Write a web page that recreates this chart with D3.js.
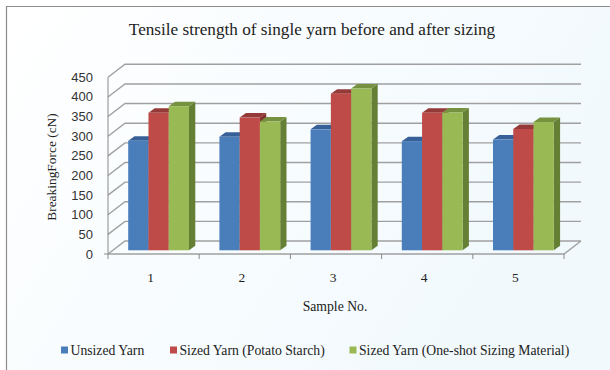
<!DOCTYPE html>
<html>
<head>
<meta charset="utf-8">
<title>Tensile strength of single yarn</title>
<script src="https://cdnjs.cloudflare.com/ajax/libs/d3/7.8.5/d3.min.js"></script>
<style>
  html, body { margin: 0; padding: 0; background: #fff; }
  svg { display: block; }
  text { font-family: "Liberation Serif", serif; fill: #222; }
</style>
</head>
<body>
<svg id="chart" width="610" height="370"></svg>
<script>
var samples = ["1", "2", "3", "4", "5"];
var seriesNames = ["Unsized Yarn", "Sized Yarn (Potato Starch)", "Sized Yarn (One-shot Sizing Material)"];
var unsized = [279, 289, 308, 278, 282];
var potato = [350, 338, 399, 350, 309];
var oneShot = [367, 328, 412, 351, 327];
var yTicks = [0, 50, 100, 150, 200, 250, 300, 350, 400, 450];

var frontColors = ["#4a7ebb", "#be4b48", "#98b954"];
var topColors = ["#386098", "#943a38", "#769140"];
var sideColors = ["#33588a", "#853432", "#658035"];
var seriesValues = [unsized, potato, oneShot];

var svg = d3.select("#chart");

var defs = svg.append("defs");
var bg = defs.append("linearGradient").attr("id", "bg")
  .attr("x1", 0).attr("y1", 0).attr("x2", 1).attr("y2", 0.4);
bg.append("stop").attr("offset", "0%").attr("stop-color", "#ffffff");
bg.append("stop").attr("offset", "100%").attr("stop-color", "#f1f9fd");

svg.append("rect").attr("x", 6).attr("y", 6).attr("width", 604).attr("height", 364)
  .attr("fill", "url(#bg)");
svg.append("path").attr("d", "M6.5,370V6.5H610").attr("fill", "none").attr("stroke", "#8c8c8c").attr("stroke-width", 1.2);

// plot geometry, front floor edge and the shift back to the wall
var x0 = 108, x1 = 564, yBase = 254, yTop = 77.3;
var depthX = 17, depthY = -13;

var x = d3.scaleBand().domain(samples).range([x0, x1]);
var y = d3.scaleLinear().domain([0, 450]).range([yBase, yTop]);

var barW = x.bandwidth() / 4.5;
var barShiftX = 5, barShiftY = -3.7, barDepthX = 6.3, barDepthY = -4.5;

var grid = svg.append("g").attr("fill", "none").attr("stroke", "#a0a0a0").attr("stroke-width", 1.4);
yTicks.forEach(function(t) {
  grid.append("polyline").attr("points", [
    [x0, y(t)], [x0 + depthX, y(t) + depthY], [x1 + depthX, y(t) + depthY]
  ].join(" "));
});
// floor front and right edges
grid.append("polyline").attr("points", [[x0, yBase], [x1, yBase], [x1 + depthX, yBase + depthY]].join(" "));

// axes
svg.append("path").attr("d", "M" + x0 + "," + yTop + "V" + yBase).attr("fill", "none").attr("stroke", "#8a8a8a");
var ticksX = samples.map(function(s) { return x(s); }).concat([x1]);
svg.append("g").selectAll("line").data(ticksX).enter().append("line")
  .attr("x1", function(d) { return d; }).attr("x2", function(d) { return d; })
  .attr("y1", yBase).attr("y2", yBase + 5).attr("stroke", "#8a8a8a");
svg.append("line").attr("x1", x0 - 4).attr("x2", x0).attr("y1", y(0)).attr("y2", y(0)).attr("stroke", "#8a8a8a");

// bars, one group per sample
samples.forEach(function(s, i) {
  seriesValues.forEach(function(vals, k) {
    var left = x(s) + barW * 0.75 + barShiftX + k * barW;
    var right = left + barW;
    var top = y(vals[i]) + barShiftY;
    var bottom = yBase + barShiftY;
    var g = svg.append("g");
    g.append("polygon").attr("fill", sideColors[k]).attr("points", [
      [right, bottom], [right + barDepthX, bottom + barDepthY], [right + barDepthX, top + barDepthY], [right, top]
    ].join(" "));
    g.append("polygon").attr("fill", topColors[k]).attr("points", [
      [left, top], [left + barDepthX, top + barDepthY], [right + barDepthX, top + barDepthY], [right, top]
    ].join(" "));
    g.append("rect").attr("x", left).attr("y", top).attr("width", barW).attr("height", bottom - top)
      .attr("fill", frontColors[k]);
  });
});

// tick labels
svg.append("g").selectAll("text").data(yTicks).enter().append("text")
  .attr("x", 93).attr("y", function(d) { return y(d) + 4.5; })
  .attr("text-anchor", "end").attr("font-size", 13)
  .style("font-family", "'Liberation Sans', sans-serif").style("fill", "#333").text(function(d) { return d; });
svg.append("g").selectAll("text").data(samples).enter().append("text")
  .attr("x", function(d) { return x(d) + x.bandwidth() / 2 - 3; }).attr("y", 281.5)
  .attr("text-anchor", "middle").attr("font-size", 13.5).text(function(d) { return d; });

svg.append("text").attr("x", 312).attr("y", 34.5).attr("text-anchor", "middle")
  .attr("font-size", 17.2).text("Tensile strength of single yarn before and after sizing");
svg.append("text").attr("x", 335).attr("y", 311).attr("text-anchor", "middle")
  .attr("font-size", 13.7).text("Sample No.");
svg.append("text").attr("transform", "translate(56,167) rotate(-90)").attr("text-anchor", "middle")
  .attr("font-size", 13.4).text("BreakingForce (cN)");

// legend
var legendX = [61, 170, 349.5];
var legend = svg.append("g").selectAll("g").data(seriesNames).enter().append("g")
  .attr("transform", function(d, i) { return "translate(" + legendX[i] + ",354.5)"; });
legend.append("rect").attr("y", -8).attr("width", 7).attr("height", 7)
  .attr("fill", function(d, i) { return frontColors[i]; });
legend.append("text").attr("x", 9.5).attr("y", 0).attr("font-size", 13.7).text(function(d) { return d; });
</script>
</body>
</html>
